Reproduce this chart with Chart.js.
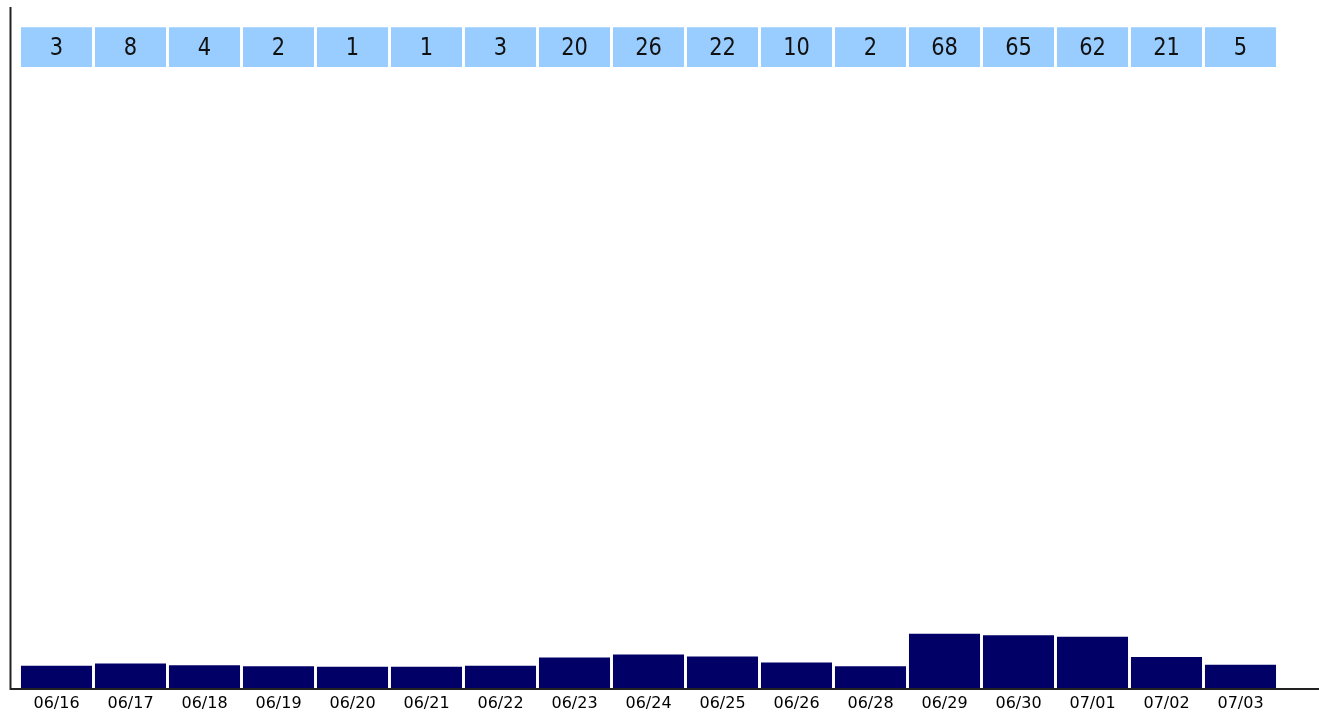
<!DOCTYPE html>
<html>
<head>
<meta charset="utf-8">
<script src="https://cdn.jsdelivr.net/npm/chart.js@4/dist/chart.umd.min.js"></script>
<style>
    html, body { margin: 0; padding: 0; background: #fff; overflow: hidden; }
    #wrap { width: 1319px; height: 716px; }
</style>
</head>
<body>
<div id="wrap"><canvas id="myChart" width="1319" height="716"></canvas></div>
<script>
const days = ["06/16", "06/17", "06/18", "06/19", "06/20", "06/21", "06/22", "06/23",
    "06/24", "06/25", "06/26", "06/28", "06/29", "06/30", "07/01", "07/02", "07/03"];
const counts = [3, 8, 4, 2, 1, 1, 3, 20, 26, 22, 10, 2, 68, 65, 62, 21, 5];

// value range of the axis and the band where the count boxes sit
const yMin = -42;
const yMax = 1341;
const boxBand = [1219, 1300];

const boxLabels = {
    id: "boxLabels",
    afterDatasetsDraw(chart) {
        const ctx = chart.ctx;
        const area = chart.chartArea;
        const boxes = chart.getDatasetMeta(1).data;
        ctx.save();
        ctx.fillStyle = "#111";
        ctx.font = "21px 'DejaVu Sans'";
        ctx.textAlign = "center";
        ctx.textBaseline = "middle";
        boxes.forEach((el, i) => {
            const cy = (el.y + el.base) / 2;
            ctx.save();
            ctx.translate(el.x, cy + 1);
            ctx.scale(1, 1.18);
            ctx.fillText(String(counts[i]), 0, 0);
            ctx.restore();
        });
        // axis lines
        const x0 = area.left - 9;
        ctx.strokeStyle = "#222";
        ctx.lineWidth = 2;
        ctx.beginPath();
        ctx.moveTo(x0, area.top);
        ctx.lineTo(x0, area.bottom + 1);
        ctx.lineTo(chart.width, area.bottom + 1);
        ctx.stroke();
        ctx.restore();
    },
};

function main() {
    const ctx = document.getElementById("myChart");

    new Chart(ctx, {
        type: "bar",
        data: {
            labels: days,
            datasets: [
                {
                    label: "count",
                    data: counts,
                    base: yMin,
                    backgroundColor: "#000066",
                    barPercentage: 0.96,
                    categoryPercentage: 1,
                },
                {
                    label: "boxes",
                    data: counts.map(() => boxBand),
                    backgroundColor: "#99ccff",
                    barPercentage: 0.96,
                    categoryPercentage: 1,
                },
            ],
        },
        options: {
            responsive: false,
            animation: false,
            grouped: false,
            layout: {
                padding: { left: 19.5, right: 41.5, top: 7, bottom: -3.2 },
            },
            plugins: {
                legend: { display: false },
                tooltip: { enabled: false },
            },
            scales: {
                x: {
                    grid: { display: false, drawTicks: false },
                    border: { display: false },
                    ticks: {
                        color: "#000",
                        padding: 4,
                        autoSkip: false,
                        maxRotation: 0,
                        font: { family: "'DejaVu Sans'", size: 16, lineHeight: 1.45 },
                    },
                },
                y: {
                    display: false,
                    min: yMin,
                    max: yMax,
                },
            },
        },
        plugins: [boxLabels],
    });
}

main();
</script>
</body>
</html>
